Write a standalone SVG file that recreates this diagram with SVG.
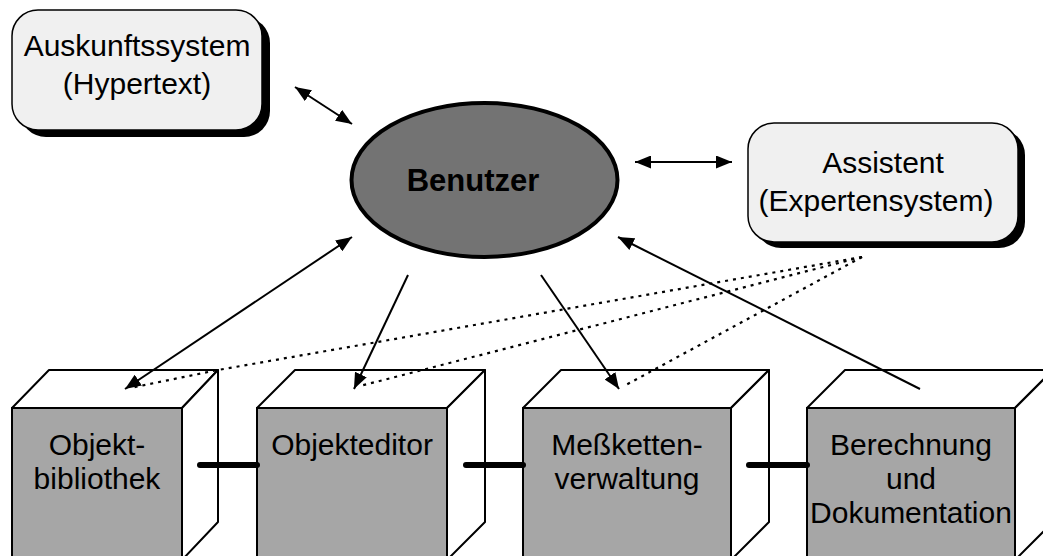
<svg xmlns="http://www.w3.org/2000/svg" width="1043" height="556" viewBox="0 0 1043 556">
<defs>
<marker id="ah" markerUnits="userSpaceOnUse" markerWidth="17" markerHeight="13" refX="16" refY="6.5" orient="auto-start-reverse">
<path d="M0,0 L16,6.5 L0,13 z" fill="#000"/>
</marker>
<style>
.t{font-family:"Liberation Sans",Arial,sans-serif;font-size:30px;fill:#000;text-anchor:middle}
.b{font-weight:bold;font-size:31px}
.box{fill:#f0f0f0;stroke:#000;stroke-width:1.5}
.sh{fill:#000}
.front{fill:#a6a6a6;stroke:#000;stroke-width:2}
.face{fill:#fff;stroke:#000;stroke-width:2;stroke-linejoin:round}
.c{stroke:#000;stroke-width:2;fill:none}
.d{stroke:#000;stroke-width:2.2;fill:none;stroke-dasharray:3 5}
.link{stroke:#000;stroke-width:6;stroke-linecap:round}
</style>
</defs>
<rect width="1043" height="556" fill="#fff"/>

<g id="auskunftssystem">
<rect class="sh" x="20" y="17" width="250" height="120" rx="26"/>
<rect class="box" x="12" y="10" width="250" height="120" rx="26"/>
<text class="t" x="137" y="56">Auskunftssystem</text>
<text class="t" x="137" y="94">(Hypertext)</text>
</g>

<g id="benutzer">
<ellipse cx="484.5" cy="180" rx="133" ry="77" fill="#737373" stroke="#000" stroke-width="4"/>
<text class="t b" x="473" y="191">Benutzer</text>
</g>

<g id="assistent">
<rect class="sh" x="755" y="129" width="270" height="119" rx="26"/>
<rect class="box" x="748" y="123" width="270" height="119" rx="26"/>
<text class="t" x="883" y="173">Assistent</text>
<text class="t" x="876" y="211">(Expertensystem)</text>
</g>

<g id="objektbibliothek">
<polygon class="face" points="12,408 49,370 218,370 182,408"/>
<polygon class="face" points="182,408 218,370 218,522 182,560"/>
<rect class="front" x="12" y="408" width="170" height="160"/>
<text class="t" x="97" y="455">Objekt-</text>
<text class="t" x="97" y="489">bibliothek</text>
</g>

<g id="objekteditor">
<polygon class="face" points="257,408 295,370 485,370 447,408"/>
<polygon class="face" points="447,408 485,370 485,522 447,560"/>
<rect class="front" x="257" y="408" width="190" height="160"/>
<text class="t" x="352" y="455">Objekteditor</text>
</g>

<g id="messkettenverwaltung">
<polygon class="face" points="523,408 561,370 769,370 731,408"/>
<polygon class="face" points="731,408 769,370 769,522 731,560"/>
<rect class="front" x="523" y="408" width="208" height="160"/>
<text class="t" x="627" y="455">Meßketten-</text>
<text class="t" x="627" y="489">verwaltung</text>
</g>

<g id="berechnung">
<polygon class="face" points="807,408 845,370 1053,370 1015,408"/>
<polygon class="face" points="1015,408 1053,370 1053,522 1015,560"/>
<rect class="front" x="807" y="408" width="208" height="160"/>
<text class="t" x="911" y="455">Berechnung</text>
<text class="t" x="911" y="489">und</text>
<text class="t" x="911" y="523">Dokumentation</text>
</g>

<g id="connectors">
<line class="link" x1="200" y1="465" x2="257" y2="465"/>
<line class="link" x1="466" y1="465" x2="523" y2="465"/>
<line class="link" x1="749" y1="465" x2="807" y2="465"/>
<line class="c" x1="295" y1="87" x2="352" y2="124" marker-start="url(#ah)" marker-end="url(#ah)"/>
<line class="c" x1="635" y1="162" x2="732" y2="162" marker-start="url(#ah)" marker-end="url(#ah)"/>
<line class="c" x1="125" y1="389" x2="352" y2="237" marker-start="url(#ah)" marker-end="url(#ah)"/>
<line class="c" x1="408" y1="275" x2="354" y2="389" marker-end="url(#ah)"/>
<line class="c" x1="541" y1="275" x2="619" y2="389" marker-end="url(#ah)"/>
<line class="c" x1="920" y1="389" x2="618" y2="237" marker-end="url(#ah)"/>
<polyline class="d" points="862,257 218,370 130,388"/>
<line class="d" x1="862" y1="257" x2="360" y2="386"/>
<line class="d" x1="862" y1="257" x2="624" y2="386"/>
</g>
</svg>
